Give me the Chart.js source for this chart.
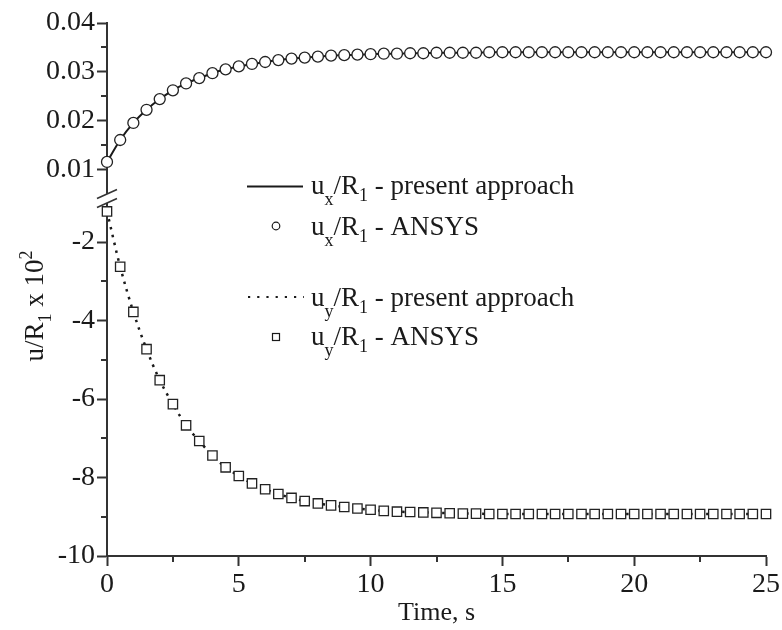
<!DOCTYPE html>
<html>
<head>
<meta charset="utf-8">
<script src="https://cdn.jsdelivr.net/npm/chart.js@4/dist/chart.umd.min.js"></script>
<style>
html,body{margin:0;padding:0;background:#fff;}
#wrap{width:782px;height:630px;position:relative;}
</style>
</head>
<body>
<div id="wrap"><canvas id="c" width="782" height="630"></canvas></div>
<script>
// ---------- data ----------
const times = [0,0.5,1,1.5,2,2.5,3,3.5,4,4.5,5,5.5,6,6.5,7,7.5,8,8.5,9,9.5,
  10,10.5,11,11.5,12,12.5,13,13.5,14,14.5,15,15.5,16,16.5,17,17.5,18,18.5,19,19.5,
  20,20.5,21,21.5,22,22.5,23,23.5,24,24.5,25];

// u_x / R_1 (ANSYS markers)
const uxAnsys = [0.0115,0.0160,0.0195,0.0222,0.0244,0.0262,0.0276,0.0287,0.0297,0.0305,
  0.0311,0.0316,0.0320,0.0324,0.0327,0.0329,0.0331,0.0333,0.0334,0.0335,
  0.0336,0.0337,0.0337,0.0338,0.0338,0.0339,0.0339,0.0339,0.0339,0.0340,
  0.0340,0.0340,0.0340,0.0340,0.0340,0.0340,0.0340,0.0340,0.0340,0.0340,
  0.0340,0.0340,0.0340,0.0340,0.0340,0.0340,0.0340,0.0340,0.0340,0.0340,0.0340];
// u_x / R_1 (present approach, solid line through the markers)
const uxPresent = [0.0115,0.0160,0.0195,0.0222,0.0244,0.0262,0.0276,0.0287,0.0297,0.0305,
  0.0311,0.0316,0.0320,0.0324,0.0327,0.0329,0.0331,0.0333,0.0334,0.0335,
  0.0336,0.0337,0.0337,0.0338,0.0338,0.0339,0.0339,0.0339,0.0339,0.0340,
  0.0340,0.0340,0.0340,0.0340,0.0340,0.0340,0.0340,0.0340,0.0340,0.0340,
  0.0340,0.0340,0.0340,0.0340,0.0340,0.0340,0.0340,0.0340,0.0340,0.0340,0.0340];

// u_y / R_1 x 10^2 (ANSYS markers)
const uyAnsys = [-1.22,-2.63,-3.78,-4.73,-5.52,-6.13,-6.67,-7.07,-7.44,-7.74,
  -7.96,-8.15,-8.30,-8.42,-8.52,-8.60,-8.66,-8.71,-8.75,-8.79,
  -8.82,-8.85,-8.87,-8.88,-8.89,-8.90,-8.91,-8.92,-8.92,-8.93,
  -8.93,-8.93,-8.93,-8.93,-8.93,-8.93,-8.93,-8.93,-8.93,-8.93,
  -8.93,-8.93,-8.93,-8.93,-8.93,-8.93,-8.93,-8.93,-8.93,-8.93,-8.93];
// u_y / R_1 x 10^2 (present approach, dotted line)
const uyPresent = [-1.22,-2.63,-3.78,-4.73,-5.52,-6.13,-6.67,-7.07,-7.44,-7.74,
  -7.96,-8.15,-8.30,-8.42,-8.52,-8.60,-8.66,-8.71,-8.75,-8.79,
  -8.82,-8.85,-8.87,-8.88,-8.89,-8.90,-8.91,-8.92,-8.92,-8.93,
  -8.93,-8.93,-8.93,-8.93,-8.93,-8.93,-8.93,-8.93,-8.93,-8.93,
  -8.93,-8.93,-8.93,-8.93,-8.93,-8.93,-8.93,-8.93,-8.93,-8.93,-8.93];

// ticks
const xTicks = [0,5,10,15,20,25];
const xTickLabels = ['0','5','10','15','20','25'];
const xMinor = [2.5,7.5,12.5,17.5,22.5];
const yTopTicks = [0.01,0.02,0.03,0.04];
const yTopTickLabels = ['0.01','0.02','0.03','0.04'];
const yTopMinor = [0.015,0.025,0.035];
const yBotTicks = [-10,-8,-6,-4,-2];
const yBotTickLabels = ['-10','-8','-6','-4','-2'];
const yBotMinor = [-9,-7,-5,-3];

// ---------- styling ----------
const FONT = '"Liberation Serif", "Times New Roman", serif';
const AX = '#333333';
const TXT = '#1a1a1a';

const pts = (ys) => times.map((t, i) => ({x: t, y: ys[i]}));

const overlay = {
  id: 'overlay',
  afterDraw(chart) {
    const ctx = chart.ctx;
    const sx = chart.scales.x, st = chart.scales.yTop, sb = chart.scales.yBot;
    ctx.save();
    // minor ticks
    ctx.strokeStyle = AX; ctx.lineWidth = 2;
    const axX = sx.left;
    for (const v of yTopMinor) {
      const y = Math.round(st.getPixelForValue(v));
      ctx.beginPath(); ctx.moveTo(axX - 6, y); ctx.lineTo(axX, y); ctx.stroke();
    }
    for (const v of yBotMinor) {
      const y = Math.round(sb.getPixelForValue(v));
      ctx.beginPath(); ctx.moveTo(axX - 6, y); ctx.lineTo(axX, y); ctx.stroke();
    }
    for (const v of xMinor) {
      const x = Math.round(sx.getPixelForValue(v));
      ctx.beginPath(); ctx.moveTo(x, sx.top); ctx.lineTo(x, sx.top + 6); ctx.stroke();
    }
    // axis break
    const yb = st.bottom;
    ctx.fillStyle = '#fff';
    ctx.fillRect(axX - 3, yb - 4, 6, 9);
    ctx.strokeStyle = AX; ctx.lineWidth = 1.6;
    ctx.beginPath(); ctx.moveTo(axX - 10, yb + 0.5); ctx.lineTo(axX + 10, yb - 8.5); ctx.stroke();
    ctx.beginPath(); ctx.moveTo(axX - 10, yb + 9.5); ctx.lineTo(axX + 10, yb + 0.5); ctx.stroke();

    // rich text helper
    const rich = (parts, x, y) => {
      let cx = x;
      for (const p of parts) {
        ctx.font = p.s + 'px ' + FONT;
        ctx.fillText(p.t, cx, y + (p.dy || 0));
        cx += ctx.measureText(p.t).width;
      }
      return cx - x;
    };
    const widthOf = (parts) => {
      let w = 0;
      for (const p of parts) { ctx.font = p.s + 'px ' + FONT; w += ctx.measureText(p.t).width; }
      return w;
    };
    ctx.fillStyle = TXT;
    ctx.textAlign = 'left';
    ctx.textBaseline = 'alphabetic';

    // y axis title (rotated)
    const yTitle = [{t:'u/R', s:27},{t:'1', s:18, dy:8},{t:' x 10', s:27},{t:'2', s:18, dy:-11}];
    const wt = widthOf(yTitle);
    ctx.save();
    ctx.translate(43, 306);
    ctx.rotate(-Math.PI / 2);
    rich(yTitle, -wt / 2, 0);
    ctx.restore();

    // legend
    const lx = 311, S = 27, s = 18;
    const row = (sub, tail, base) => rich([
      {t:'u', s:S},{t:sub, s:s, dy:11},{t:'/R', s:S},{t:'1', s:s, dy:7},{t:tail, s:S}
    ], lx, base);
    // row 1: solid line
    ctx.strokeStyle = '#1a1a1a'; ctx.lineWidth = 2; ctx.setLineDash([]);
    ctx.beginPath(); ctx.moveTo(247, 186.5); ctx.lineTo(303, 186.5); ctx.stroke();
    row('x', ' - present approach', 194);
    // row 2: circle
    ctx.lineWidth = 1.2;
    ctx.beginPath(); ctx.arc(276, 226, 3.8, 0, Math.PI * 2); ctx.stroke();
    row('x', ' - ANSYS', 235);
    // row 3: dotted line
    ctx.lineWidth = 2.2; ctx.setLineDash([2.2, 7]);
    ctx.beginPath(); ctx.moveTo(248, 297); ctx.lineTo(304, 297); ctx.stroke();
    ctx.setLineDash([]);
    row('y', ' - present approach', 306);
    // row 4: square
    ctx.lineWidth = 1.2;
    ctx.strokeRect(272.5, 333.5, 7, 7);
    row('y', ' - ANSYS', 345);
    ctx.restore();
  }
};

const tickFont = {family: FONT, size: 28};

new Chart(document.getElementById('c'), {
  type: 'line',
  data: {
    datasets: [
      {label: 'ux present approach', data: pts(uxPresent), yAxisID: 'yTop', order: 2,
       borderColor: '#1a1a1a', borderWidth: 2, pointRadius: 0, cubicInterpolationMode: 'monotone', clip: false},
      {label: 'uy present approach', data: pts(uyPresent), yAxisID: 'yBot', order: 2,
       borderColor: '#1a1a1a', borderWidth: 2.5, borderDash: [2.5, 5.5], pointRadius: 0,
       cubicInterpolationMode: 'monotone', clip: false},
      {label: 'ux ANSYS', data: pts(uxAnsys), yAxisID: 'yTop', showLine: false, order: 1,
       pointStyle: 'circle', pointRadius: 5.5, pointBorderWidth: 1.3,
       pointBorderColor: '#222', pointBackgroundColor: '#fff', clip: false},
      {label: 'uy ANSYS', data: pts(uyAnsys), yAxisID: 'yBot', showLine: false, order: 1,
       pointStyle: 'rect', pointRadius: 6.6, pointBorderWidth: 1.3,
       pointBorderColor: '#222', pointBackgroundColor: '#fff', clip: false}
    ]
  },
  options: {
    responsive: false,
    animation: false,
    devicePixelRatio: 1,
    layout: {padding: {top: 23, left: 0, right: 0, bottom: 0}},
    plugins: {legend: {display: false}, tooltip: {enabled: false}},
    scales: {
      x: {
        type: 'linear', position: 'bottom', min: 0, max: 25,
        afterBuildTicks: (sc) => { sc.ticks = xTicks.map(v => ({value: v})); },
        afterFit: (sc) => { sc.height = 74; },
        ticks: {font: tickFont, color: TXT, padding: 2, maxRotation: 0, autoSkip: false,
          callback: (v, i) => xTickLabels[i]},
        grid: {display: true, drawOnChartArea: false, drawTicks: true, tickLength: 10,
          tickWidth: 2, tickColor: AX},
        border: {display: true, color: AX, width: 2},
        title: {display: true, text: 'Time, s', font: {family: FONT, size: 26}, color: TXT,
          padding: {top: 0, bottom: 1}}
      },
      yTop: {
        type: 'linear', position: 'left', stack: 'y', stackWeight: 1, weight: 2,
        min: 0.00413, max: 0.04,
        afterBuildTicks: (sc) => { sc.ticks = yTopTicks.map(v => ({value: v})); },
        afterFit: (sc) => { sc.width = 107; },
        ticks: {font: tickFont, color: TXT, padding: 2, autoSkip: false,
          callback: (v, i) => yTopTickLabels[i]},
        grid: {display: true, drawOnChartArea: false, drawTicks: true, tickLength: 10,
          tickWidth: 2, tickColor: AX},
        border: {display: true, color: AX, width: 2}
      },
      yBot: {
        type: 'linear', position: 'left', stack: 'y', stackWeight: 2.0475, weight: 1,
        min: -10, max: -0.875,
        afterBuildTicks: (sc) => { sc.ticks = yBotTicks.map(v => ({value: v})); },
        afterFit: (sc) => { sc.width = 107; },
        ticks: {font: tickFont, color: TXT, padding: 2, autoSkip: false,
          callback: (v, i) => yBotTickLabels[i]},
        grid: {display: true, drawOnChartArea: false, drawTicks: true, tickLength: 10,
          tickWidth: 2, tickColor: AX},
        border: {display: true, color: AX, width: 2}
      }
    }
  },
  plugins: [overlay]
});
</script>
</body>
</html>
